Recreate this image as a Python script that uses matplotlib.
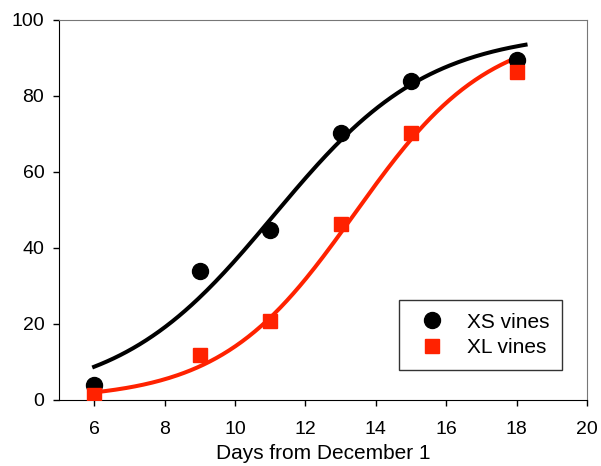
import numpy as np
import matplotlib
matplotlib.use("Agg")
import matplotlib.pyplot as plt

plt.rcParams['font.family'] = ['Liberation Sans', 'DejaVu Sans']

days = [6, 9, 11, 13, 15, 18]
xs_vines = [3.9, 33.8, 44.6, 70.2, 83.8, 89.4]
xl_vines = [1.3, 11.8, 20.8, 46.3, 70.1, 86.3]

# sigmoid fit parameters (max, x0, b)
xs_fit = [97.0, 11.1, 2.2]
xl_fit = [98.0, 13.4, 1.9]
xs_range = [6, 18.25]
xl_range = [6, 18.1]

x_ticks = [6, 8, 10, 12, 14, 16, 18, 20]
y_ticks = [0, 20, 40, 60, 80, 100]

red = '#ff2200'


def sigmoid(x, a, x0, b):
    return a / (1 + np.exp(-(x - x0) / b))


fig, ax = plt.subplots(figsize=(6.01, 4.66), dpi=100)
fig.subplots_adjust(left=0.098, right=0.977, top=0.958, bottom=0.142)

xx = np.linspace(*xs_range, 200)
ax.plot(xx, sigmoid(xx, *xs_fit), color='black', lw=2.9, zorder=2)
xx2 = np.linspace(*xl_range, 200)
ax.plot(xx2, sigmoid(xx2, *xl_fit), color=red, lw=2.9, zorder=2)

ax.plot(days, xs_vines, 'o', color='black', ms=11.5, label='XS vines', zorder=3)
ax.plot(days, xl_vines, 's', color=red, ms=9.5, label='XL vines', zorder=3)

ax.set_xlim(5, 20)
ax.set_ylim(0, 100)
ax.set_xticks(x_ticks)
ax.set_yticks(y_ticks)
ax.tick_params(direction='out', length=4.5, width=1, labelsize=14)
ax.tick_params(axis='x', pad=11)
ax.tick_params(axis='y', pad=6)
ax.set_xlabel('Days from December 1', fontsize=15, labelpad=4)
for s in ['top', 'right']:
    ax.spines[s].set_color('#777777')
for s in ['left', 'bottom']:
    ax.spines[s].set_color('black')

leg = ax.legend(loc='lower right', bbox_to_anchor=(0.953, 0.079), fontsize=15,
                frameon=True, fancybox=False, edgecolor='black',
                handletextpad=0.66, borderpad=0.62, labelspacing=0.3,
                handlelength=2.0, borderaxespad=0)
leg.get_frame().set_linewidth(1)

fig.savefig('out.png', dpi=100)
